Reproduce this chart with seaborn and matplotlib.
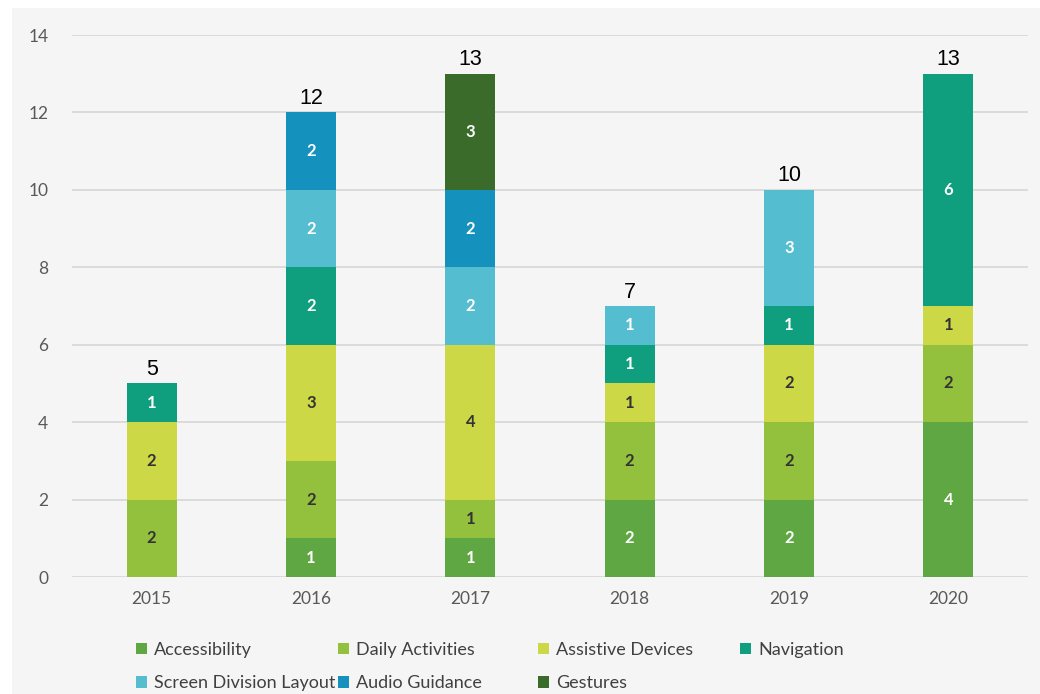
import matplotlib
matplotlib.use("Agg")
import matplotlib.pyplot as plt
from matplotlib.patches import Patch, Rectangle
import seaborn as sns
import pandas as pd
import numpy as np

# データ
years = ["2015", "2016", "2017", "2018", "2019", "2020"]
accessibility = [0, 1, 1, 2, 2, 4]
daily_activities = [2, 2, 1, 2, 2, 2]
assistive_devices = [2, 3, 4, 1, 2, 1]
navigation = [1, 2, 0, 1, 1, 6]
screen_division = [0, 2, 2, 1, 3, 0]
audio_guidance = [0, 2, 2, 0, 0, 0]
gestures = [0, 0, 3, 0, 0, 0]

categories = ["Accessibility", "Daily Activities", "Assistive Devices", "Navigation",
              "Screen Division Layout", "Audio Guidance", "Gestures"]
series = [accessibility, daily_activities, assistive_devices, navigation,
          screen_division, audio_guidance, gestures]
colors = ["#5ea743", "#93c13e", "#cdd846", "#0f9f7e", "#55bdd0", "#1591bd", "#3b6b2a"]
text_colors = ["white", "#333333", "#333333", "white", "white", "white", "white"]

bg = "#f5f5f5"
sns.set_style("white")
plt.rcParams["font.family"] = ["Lato", "DejaVu Sans"]

fig = plt.figure(figsize=(10.4, 6.94), dpi=100)
fig.patch.set_facecolor("white")
fig.add_artist(Rectangle((12 / 1040, 0), 1 - 12 / 1040, 1 - 8 / 694,
                         transform=fig.transFigure, facecolor=bg, edgecolor="none", zorder=-10))
ax = fig.add_axes([72 / 1040, 1 - 577 / 694, 956 / 1040, 542 / 694])
ax.set_facecolor(bg)

# 積み上げ棒
bottom = np.zeros(len(years))
for name, vals, col, tcol in zip(categories, series, colors, text_colors):
    df = pd.DataFrame({"year": years, "count": vals})
    sns.barplot(data=df, x="year", y="count", color=col, bottom=bottom.copy(),
                width=0.315, errorbar=None, saturation=1, linewidth=0, ax=ax, zorder=3)
    for i, v in enumerate(vals):
        if v > 0:
            ax.text(i, bottom[i] + v / 2, str(v), ha="center", va="center",
                    color=tcol, fontsize=12, fontweight="bold", zorder=4)
    bottom += np.array(vals)

# 合計
for i, t in enumerate(bottom):
    ax.annotate(f"{int(t)}", (i, t), xytext=(0, 2.5), textcoords="offset points",
                ha="center", va="bottom", fontsize=15.5, family="Liberation Sans", color="black")

ax.set_ylim(0, 14)
ax.set_xlim(-0.5, 5.5)
ax.set_yticks(range(0, 15, 2))
ax.grid(axis="y", color="#d9d9d9", linewidth=1.3, zorder=0)
ax.set_axisbelow(True)
for s in ax.spines.values():
    s.set_visible(False)
ax.set_xlabel("")
ax.set_ylabel("")
ax.tick_params(axis="both", length=0, labelsize=12.5, labelcolor="#595959")
ax.tick_params(axis="y", pad=17)
ax.tick_params(axis="x", pad=10)

# 凡例 (列ごと)
handles = [Patch(facecolor=c, edgecolor="none") for c in colors]
cols = [[0, 4], [1, 5], [2, 6], [3]]
col_x = [136, 338, 538, 740]
for idx, x in zip(cols, col_x):
    fig.legend([handles[k] for k in idx], [categories[k] for k in idx],
               loc="upper left", bbox_to_anchor=(x / 1040, 1 - 642 / 694),
               frameon=False, fontsize=13, labelcolor="#404040",
               handlelength=0.6, handleheight=0.6, handletextpad=0.4,
               labelspacing=0.95, borderpad=0, borderaxespad=0)

fig.savefig("out.png", dpi=100, facecolor="white")
